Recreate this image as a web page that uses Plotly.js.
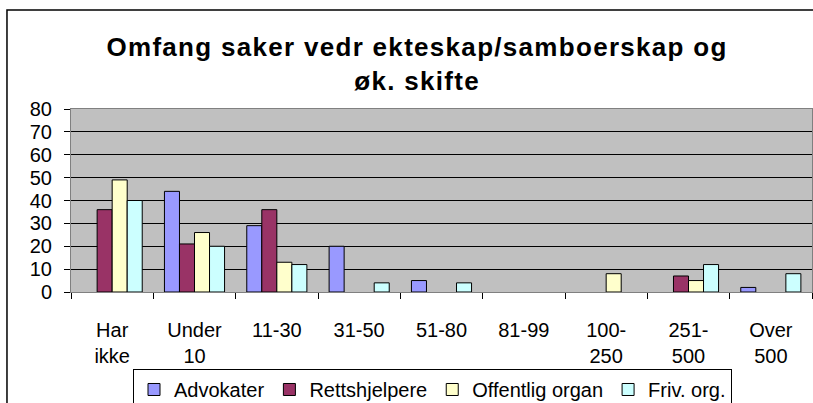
<!DOCTYPE html>
<html>
<head>
<meta charset="utf-8">
<script src="https://cdn.plot.ly/plotly-3.0.1.min.js"></script>
<style>
html,body{margin:0;padding:0;background:#fff;}
#chart{width:813px;height:403px;}
#chart .gtitle{letter-spacing:1.3px;}
</style>
</head>
<body>
<div id="chart"></div>
<script>
const categories = ['Har<br>ikke','Under<br>10','11-30','31-50','51-80','81-99','100-<br>250','251-<br>500','Over<br>500'];
const seriesNames = ['Advokater','Rettshjelpere','Offentlig organ','Friv. org.'];
const advokater      = [null, 44, 29, 20, 5, null, null, null, 2];
const rettshjelpere  = [36, 21, 36, null, null, null, null, 7, null];
const offentligOrgan = [49, 26, 13, null, null, null, 8, 5, null];
const frivOrg        = [40, 20, 12, 4, 4, null, null, 12, 8];
const yTicks = [0,10,20,30,40,50,60,70,80];
const titleText = 'Omfang saker vedr ekteskap/samboerskap og<br>øk. skifte';

const colors = ['#9999FF','#993366','#FFFFCC','#CCFFFF'];
const values = [advokater, rettshjelpere, offentligOrgan, frivOrg];
const FONT = '"Liberation Sans", Arial, sans-serif';

const traces = values.map((v,i)=>({
  type:'bar',
  name: seriesNames[i],
  x: categories,
  y: v,
  marker:{color:colors[i], line:{color:'#000', width:1}},
  hoverinfo:'skip'
}));

const layout = {
  width:813, height:403,
  margin:{l:71, r:1, t:109, b:111, pad:0},
  paper_bgcolor:'#fff',
  plot_bgcolor:'#C0C0C0',
  barmode:'group',
  bargap:0.27,
  bargroupgap:0,
  font:{family:FONT, size:20, color:'#000'},
  title:{
    text: titleText,
    font:{family:FONT, size:26, weight:'bold', color:'#000'},
    xref:'container', x:0.513, xanchor:'center',
    yref:'container', y:0.86, yanchor:'middle'
  },
  xaxis:{
    type:'category',
    tickson:'boundaries',
    ticks:'outside', ticklen:6, tickcolor:'#000', tickwidth:1,
    showline:true, linecolor:'#808080', linewidth:1, mirror:true,
    showgrid:false,
    tickfont:{family:FONT, size:20},
    ticklabelstandoff:20,
    automargin:false
  },
  yaxis:{
    range:[0,80],
    tickvals: yTicks,
    ticktext: yTicks.map(String),
    ticks:'outside', ticklen:6, tickcolor:'#000', tickwidth:1,
    showline:true, linecolor:'#808080', linewidth:1, mirror:true,
    showgrid:true, gridcolor:'#000', gridwidth:1,
    zeroline:false,
    tickfont:{family:FONT, size:20},
    ticklabelstandoff:8,
    automargin:false
  },
  showlegend:true,
  legend:{
    orientation:'h',
    xref:'container', x:0.1636, xanchor:'left',
    yref:'container', y:0.0844, yanchor:'top',
    bordercolor:'#000', borderwidth:1, bgcolor:'#fff',
    font:{family:FONT, size:20},
    itemwidth:30,
    tracegroupgap:0
  },
  shapes:[{
    type:'rect', xref:'paper', yref:'paper',
    x0:-0.0864, x1:1.2, y0:-1.0, y1:1.541,
    line:{color:'#000', width:1.5}, fillcolor:'rgba(0,0,0,0)', layer:'below'
  }]
};

Plotly.newPlot('chart', traces, layout, {displayModeBar:false, staticPlot:true});
</script>
</body>
</html>
